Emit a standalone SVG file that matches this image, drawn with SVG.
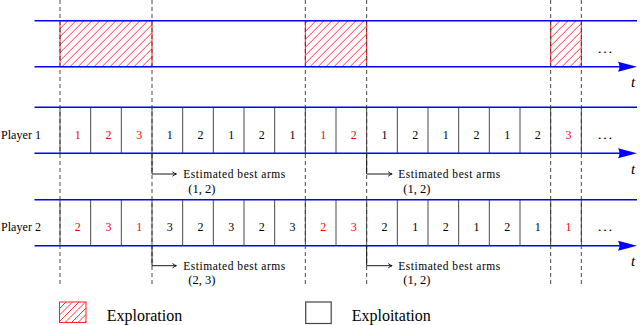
<svg xmlns="http://www.w3.org/2000/svg" width="640" height="325" viewBox="0 0 640 325">
<style>
.blue{stroke:#0000ff;stroke-width:1.5;fill:none}
.head{fill:#0000ff}
.dash{stroke:#333;stroke-width:0.9;stroke-dasharray:4 3;fill:none}
.cell{stroke:#333;stroke-width:0.9;fill:none}
.hl{stroke:#ff2020;stroke-width:0.9;fill:none}
.hbox{fill:none;stroke:#ff2020;stroke-width:1}
.ex{fill:none;stroke:#444;stroke-width:1.2}
text{font-family:"Liberation Serif","Times New Roman",serif;fill:#000}
.num{font-size:12px;text-anchor:middle}
.r{fill:#ff0000}
.lbl{font-size:12px}
.est{font-size:11.5px}
.pair{font-size:12.5px}
.leg{font-size:16px}
.t{font-size:15px;font-style:italic}
.dots{font-size:13px}
.arr{stroke:#000;stroke-width:0.9;fill:none}
</style>
<defs>
<clipPath id="c1"><rect x="60" y="20.7" width="92" height="46"/></clipPath>
<clipPath id="c2"><rect x="305.33" y="20.7" width="61.34" height="46"/></clipPath>
<clipPath id="c3"><rect x="550.67" y="20.7" width="30.66" height="46"/></clipPath>
<clipPath id="c4"><rect x="59.5" y="302" width="26.5" height="20.5"/></clipPath>
</defs>

<g id="exploration-band">
<path class="hl" clip-path="url(#c1)" d="M14,66.7l46,-46M22,66.7l46,-46M30,66.7l46,-46M38,66.7l46,-46M46,66.7l46,-46M54,66.7l46,-46M62,66.7l46,-46M70,66.7l46,-46M78,66.7l46,-46M86,66.7l46,-46M94,66.7l46,-46M102,66.7l46,-46M110,66.7l46,-46M118,66.7l46,-46M126,66.7l46,-46M134,66.7l46,-46M142,66.7l46,-46M150,66.7l46,-46"/>
<path class="hl" clip-path="url(#c2)" d="M262,66.7l46,-46M270,66.7l46,-46M278,66.7l46,-46M286,66.7l46,-46M294,66.7l46,-46M302,66.7l46,-46M310,66.7l46,-46M318,66.7l46,-46M326,66.7l46,-46M334,66.7l46,-46M342,66.7l46,-46M350,66.7l46,-46M358,66.7l46,-46M366,66.7l46,-46"/>
<path class="hl" clip-path="url(#c3)" d="M506,66.7l46,-46M514,66.7l46,-46M522,66.7l46,-46M530,66.7l46,-46M538,66.7l46,-46M546,66.7l46,-46M554,66.7l46,-46M562,66.7l46,-46M570,66.7l46,-46M578,66.7l46,-46"/>
<rect class="hbox" x="60" y="20.7" width="92" height="46"/>
<rect class="hbox" x="305.33" y="20.7" width="61.34" height="46"/>
<rect class="hbox" x="550.67" y="20.7" width="30.66" height="46"/>
<line class="blue" x1="34.5" y1="20.7" x2="637" y2="20.7"/>
<line class="blue" x1="34.5" y1="66.7" x2="621" y2="66.7"/>
<path class="head" d="M637,66.7 L618,61.7 Q621,66.7 618,71.7 Z"/>
<text class="dots" x="605" y="53" text-anchor="middle" textLength="16" lengthAdjust="spacingAndGlyphs">…</text>
<text class="t" x="631" y="87">t</text>
</g>

<g id="player1">
<text class="lbl" x="1" y="139" textLength="40">Player 1</text>
<line class="blue" x1="34.5" y1="107.3" x2="637" y2="107.3"/>
<line class="blue" x1="34.5" y1="153.3" x2="621" y2="153.3"/>
<path class="head" d="M637,153.3 L618,148.3 Q621,153.3 618,158.3 Z"/>
<path class="cell" d="M60,107.3V153.3 M90.67,107.3V153.3 M121.33,107.3V153.3 M152,107.3V153.3 M182.67,107.3V153.3 M213.33,107.3V153.3 M244,107.3V153.3 M274.67,107.3V153.3 M305.33,107.3V153.3 M336,107.3V153.3 M366.67,107.3V153.3 M397.33,107.3V153.3 M428,107.3V153.3 M458.67,107.3V153.3 M489.33,107.3V153.3 M520,107.3V153.3 M550.67,107.3V153.3 M581.33,107.3V153.3"/>
<text class="num r" x="77.8" y="139">1</text>
<text class="num r" x="108.5" y="139">2</text>
<text class="num r" x="139.2" y="139">3</text>
<text class="num" x="169.8" y="139">1</text>
<text class="num" x="200.5" y="139">2</text>
<text class="num" x="231.2" y="139">1</text>
<text class="num" x="261.8" y="139">2</text>
<text class="num" x="292.5" y="139">1</text>
<text class="num r" x="323.2" y="139">1</text>
<text class="num r" x="353.8" y="139">2</text>
<text class="num" x="384.5" y="139">1</text>
<text class="num" x="415.2" y="139">2</text>
<text class="num" x="445.8" y="139">1</text>
<text class="num" x="476.5" y="139">2</text>
<text class="num" x="507.2" y="139">1</text>
<text class="num" x="537.8" y="139">2</text>
<text class="num r" x="568.5" y="139">3</text>
<text class="dots" x="605" y="139" text-anchor="middle" textLength="16" lengthAdjust="spacingAndGlyphs">…</text>
<text class="t" x="631" y="174">t</text>
<text class="est" x="183.3" y="178" textLength="102">Estimated best arms</text>
<text class="pair" x="188.3" y="192.5">(1, 2)</text>
<text class="est" x="398.3" y="178" textLength="102">Estimated best arms</text>
<text class="pair" x="403.3" y="192.5">(1, 2)</text>
</g>

<g id="player2">
<text class="lbl" x="1" y="231" textLength="40">Player 2</text>
<line class="blue" x1="34.5" y1="199.7" x2="637" y2="199.7"/>
<line class="blue" x1="34.5" y1="245.7" x2="621" y2="245.7"/>
<path class="head" d="M637,245.7 L618,240.7 Q621,245.7 618,250.7 Z"/>
<path class="cell" d="M60,199.7V245.7 M90.67,199.7V245.7 M121.33,199.7V245.7 M152,199.7V245.7 M182.67,199.7V245.7 M213.33,199.7V245.7 M244,199.7V245.7 M274.67,199.7V245.7 M305.33,199.7V245.7 M336,199.7V245.7 M366.67,199.7V245.7 M397.33,199.7V245.7 M428,199.7V245.7 M458.67,199.7V245.7 M489.33,199.7V245.7 M520,199.7V245.7 M550.67,199.7V245.7 M581.33,199.7V245.7"/>
<text class="num r" x="77.8" y="231">2</text>
<text class="num r" x="108.5" y="231">3</text>
<text class="num r" x="139.2" y="231">1</text>
<text class="num" x="169.8" y="231">3</text>
<text class="num" x="200.5" y="231">2</text>
<text class="num" x="231.2" y="231">3</text>
<text class="num" x="261.8" y="231">2</text>
<text class="num" x="292.5" y="231">3</text>
<text class="num r" x="323.2" y="231">2</text>
<text class="num r" x="353.8" y="231">3</text>
<text class="num" x="384.5" y="231">2</text>
<text class="num" x="415.2" y="231">1</text>
<text class="num" x="445.8" y="231">2</text>
<text class="num" x="476.5" y="231">1</text>
<text class="num" x="507.2" y="231">2</text>
<text class="num" x="537.8" y="231">1</text>
<text class="num r" x="568.5" y="231">1</text>
<text class="dots" x="605" y="231" text-anchor="middle" textLength="16" lengthAdjust="spacingAndGlyphs">…</text>
<text class="t" x="631" y="266">t</text>
<text class="est" x="183.3" y="270" textLength="102">Estimated best arms</text>
<text class="pair" x="188.3" y="284">(2, 3)</text>
<text class="est" x="398.3" y="270" textLength="102">Estimated best arms</text>
<text class="pair" x="403.3" y="284">(1, 2)</text>
</g>

<g id="connectors">
<path class="dash" d="M60,0V287 M152,0V287 M305.33,0V287 M366.67,0V287 M550.67,0V287 M581.33,0V287"/>
<path class="arr" d="M152,153.3V174H176 M172.5,171.8 Q174.5,173.5 176.5,174 Q174.5,174.5 172.5,176.2"/>
<path class="arr" d="M366.67,153.3V174H391.7 M388.2,171.8 Q390.2,173.5 392.2,174 Q390.2,174.5 388.2,176.2"/>
<path class="arr" d="M152,245.7V265.7H176 M172.5,263.5 Q174.5,265.2 176.5,265.7 Q174.5,266.2 172.5,267.9"/>
<path class="arr" d="M366.67,245.7V265.7H391.7 M388.2,263.5 Q390.2,265.2 392.2,265.7 Q390.2,266.2 388.2,267.9"/>
</g>

<g id="legend">
<path class="hl" clip-path="url(#c4)" d="M39,322.5l20.5,-20.5M45.5,322.5l20.5,-20.5M52,322.5l20.5,-20.5M58.5,322.5l20.5,-20.5M65,322.5l20.5,-20.5M71.5,322.5l20.5,-20.5M78,322.5l20.5,-20.5M84.5,322.5l20.5,-20.5"/>
<rect class="hbox" x="59.5" y="302" width="26.5" height="20.5"/>
<text class="leg" x="106.7" y="321">Exploration</text>
<rect class="ex" x="305.7" y="302" width="25.5" height="21.5"/>
<text class="leg" x="351.7" y="321">Exploitation</text>
</g>
</svg>
